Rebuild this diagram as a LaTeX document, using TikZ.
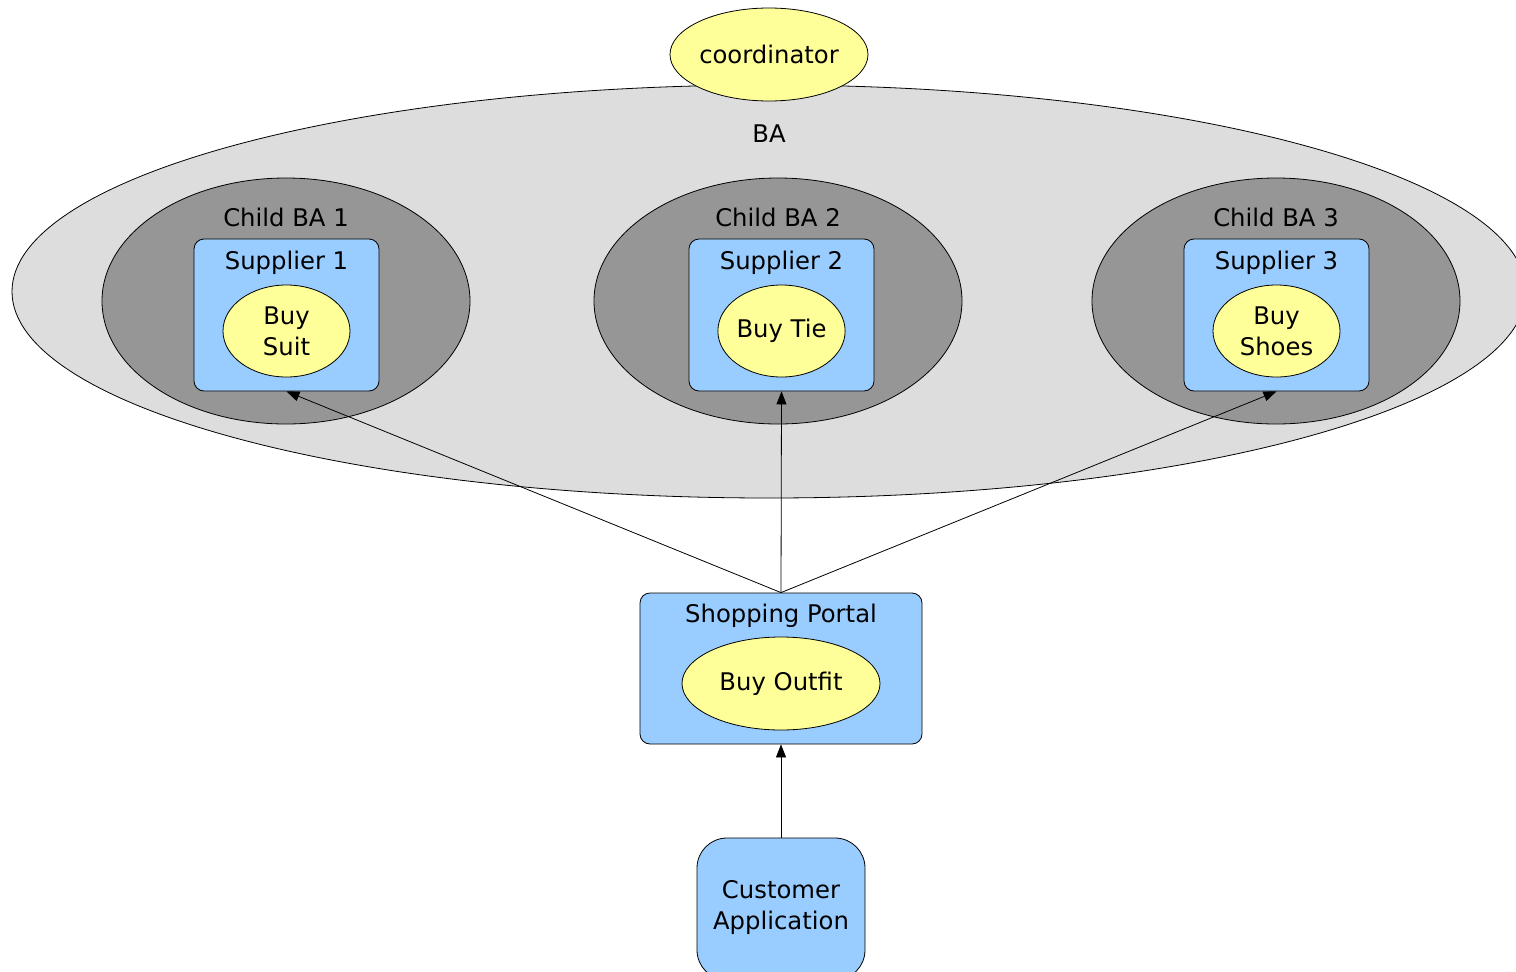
\documentclass[tikz,border=0pt]{standalone}
\usepackage{fontspec}
\setmainfont{DejaVu Sans}
\usetikzlibrary{shapes.geometric,arrows.meta}
\definecolor{bagray}{HTML}{DDDDDD}
\definecolor{childgray}{HTML}{969696}
\definecolor{boxblue}{HTML}{99CCFF}
\definecolor{ellyellow}{HTML}{FFFF99}
\tikzset{
  txt/.style={font=\fontsize{24.3}{31}\selectfont, align=center, inner sep=0pt},
  bigell/.style={ellipse, draw=black, line width=0.8pt, inner sep=0pt},
  yell/.style={ellipse, draw=black, line width=0.8pt, fill=ellyellow, inner sep=0pt, txt},
  bluebox/.style={rectangle, rounded corners=10pt, draw=black, line width=0.8pt, fill=boxblue, inner sep=0pt},
  conn/.style={line width=0.8pt, -{Triangle[length=13pt,width=10pt]}}
}
\begin{document}
\begin{tikzpicture}[x=1pt,y=-1pt]
\useasboundingbox (0,0) rectangle (1516,972);
% BA
\node[bigell, fill=bagray, minimum width=1514pt, minimum height=413pt] (ba) at (769,291.5) {};
\node[txt] (balbl) at (769,134) {BA};
% coordinator
\node[yell, minimum width=198pt, minimum height=93pt] (coord) at (769,54.5) {coordinator};
% child BAs
\foreach \i/\x in {1/286,2/778,3/1276}{
  \node[bigell, fill=childgray, minimum width=368pt, minimum height=246pt] (child\i) at (\x,301) {};
  \node[txt] (childlbl\i) at (\x,217) {Child BA \i};
}
% suppliers
\foreach \i/\x in {1/286.5,2/781.5,3/1276.5}{
  \node[bluebox, minimum width=185pt, minimum height=152pt] (sup\i) at (\x,315) {};
  \node[txt] (suplbl\i) at (\x,263) {Supplier \i};
}
\node[yell, minimum width=127pt, minimum height=92pt] (suit) at (286.5,331) {Buy\\Suit};
\node[yell, minimum width=127pt, minimum height=92pt] (tie) at (781.5,331) {Buy Tie};
\node[yell, minimum width=127pt, minimum height=92pt] (shoes) at (1276.5,331) {Buy\\Shoes};
% shopping portal
\node[bluebox, minimum width=282pt, minimum height=151pt] (portal) at (781,668.5) {};
\node[txt] (portallbl) at (781,616) {Shopping Portal};
\node[yell, minimum width=198pt, minimum height=93pt] (outfit) at (781,683.5) {Buy Outfit};
% customer application
\node[bluebox, rounded corners=30pt, minimum width=168pt, minimum height=142pt] (cust) at (781,909) {};
\node[txt] (custlbl) at (781,907) {Customer\\Application};
% connectors
\draw[conn] (portal.north) -- (sup1.south);
\draw[conn] (portal.north) -- (sup2.south);
\draw[conn] (portal.north) -- (sup3.south);
\draw[conn] (cust.north) -- (portal.south);
\end{tikzpicture}
\end{document}
